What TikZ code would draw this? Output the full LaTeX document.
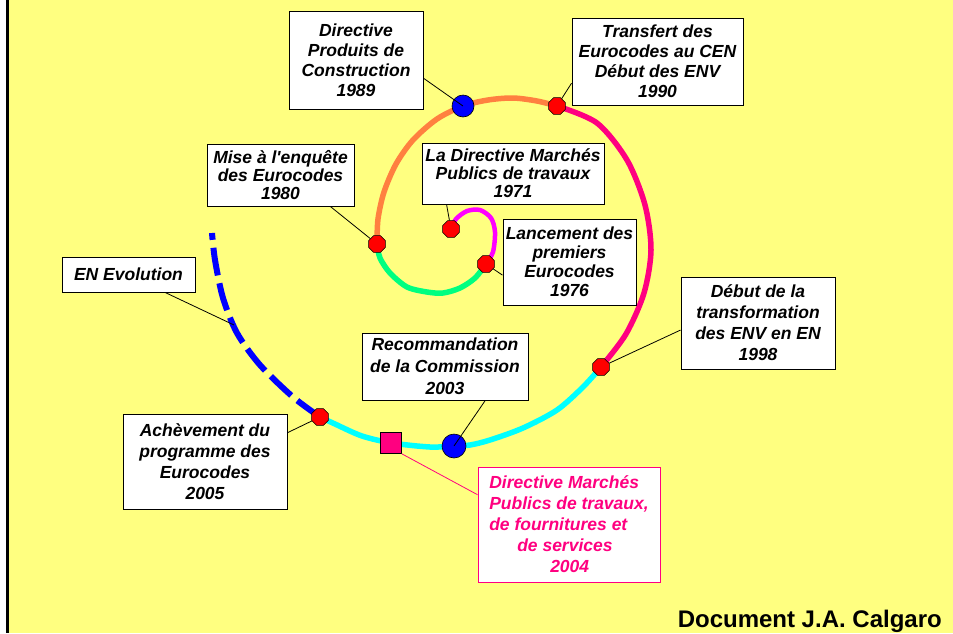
\documentclass[tikz,border=0pt]{standalone}
\usepackage{fontspec}
\setmainfont{Liberation Sans}[Ligatures=TeXOff]
\usetikzlibrary{shapes.geometric,calc}
\definecolor{bgyellow}{HTML}{FFFF80}
\definecolor{sporange}{HTML}{FF8040}
\definecolor{sppink}{HTML}{FF0080}
\definecolor{spmagenta}{HTML}{FF00FF}
\definecolor{spgreen}{HTML}{00FF80}
\definecolor{spcyan}{HTML}{00FFFF}
\definecolor{spblue}{HTML}{0000FF}
\definecolor{spred}{HTML}{FF0000}
\begin{document}
\begin{tikzpicture}[x=1pt,y=-1pt,
  box/.style={draw=black,line width=1pt,fill=white,inner sep=0pt,align=center,
    font=\bfseries\itshape\fontsize{17.5}{#1}\selectfont},
  box/.default=20,
  reddot/.style={regular polygon,regular polygon sides=8,minimum size=18pt,inner sep=0pt,
    fill=spred,draw=black,line width=0.6pt},
  bluedot/.style={circle,minimum size=#1,inner sep=0pt,fill=spblue,draw=black,line width=0.6pt},
  conn/.style={draw=black,line width=0.8pt},
  spiralseg/.style={line width=5.5pt,draw=#1},
]
\useasboundingbox (0,0) rectangle (953,633);
\fill[white] (0,0) rectangle (953,633);
\fill[bgyellow] (9,0) rectangle (953,633);
\draw[line width=3pt] (7.5,0) -- (7.5,633);

% spiral
\draw[spiralseg=spmagenta,line width=4.5pt] plot[smooth] coordinates {(451,229) (456,219) (467,211) (480,210) (491,218) (495,232) (493,252) (486,264)};
\draw[spiralseg=spgreen] plot[smooth] coordinates {(486,264) (475,278) (460,288) (443,293) (427,292) (407,287) (390,273) (380,258) (377,244)};
\draw[spiralseg=sporange] plot[smooth] coordinates {(377,244) (378,219) (384,192) (396,164) (413,140) (437,119) (463,106) (488,100) (513,98) (537,101) (557,106)};
\draw[spiralseg=sppink] plot[smooth] coordinates {(557,106) (597,123) (627,160) (645,205) (651,250) (644,293) (626,334) (601,367)};
\draw[spiralseg=spcyan] plot[smooth] coordinates {(601,367) (583,387) (557,410) (523,428) (490,440) (470,445) (454,446) (430,447) (392,443) (362,436) (335,424) (320,417)};
\draw[spiralseg=spblue,line width=6pt,dash pattern=on 28pt off 8pt] plot[smooth] coordinates {(320,417) (293,397) (260,365) (237,333) (223,298) (215,260) (212,233)};
\coordinate (enpt) at (234,325);

% boxes
\node[box] (b1989) at (356,60) [minimum width=134pt,minimum height=98pt] {Directive\\Produits de\\Construction\\1989};
\node[box] (b1990) at (657.5,61.5) [minimum width=171pt,minimum height=87pt] {Transfert des\\Eurocodes au CEN\\Début des ENV\\1990};
\node[box=18] (b1980) at (280.5,175) [minimum width=147pt,minimum height=62pt] {Mise à l'enquête\\des Eurocodes\\1980};
\node[box=18] (b1971) at (513,173.5) [minimum width=182pt,minimum height=61pt] {La Directive Marchés\\Publics de travaux\\1971};
\node[box=19] (b1976) at (569.5,262) [minimum width=133pt,minimum height=86pt] {Lancement des\\premiers\\Eurocodes\\1976};
\node[box] (ben) at (128.5,274.5) [minimum width=133pt,minimum height=35pt] {EN Evolution};
\node[box=21] (b1998) at (758,323) [minimum width=154pt,minimum height=92pt] {Début de la\\transformation\\des ENV en EN\\1998};
\node[box=22] (b2003) at (445,366.5) [minimum width=166pt,minimum height=67pt] {Recommandation\\de la Commission\\2003};
\node[box=21,align=left,draw=sppink,text=sppink] (b2004) at (569,524.5) [minimum width=182pt,minimum height=115pt] {Directive Marchés\\Publics de travaux,\\de fournitures et\\\hspace*{28pt}de services\\\hspace*{61pt}2004};
\node[box=21] (b2005) at (205,461.5) [minimum width=164pt,minimum height=95pt] {Achèvement du\\programme des\\Eurocodes\\2005};

% markers
\node[reddot] (d1971) at (451,229) {};
\node[reddot] (d1976) at (486,264) {};
\node[reddot] (d1980) at (377,244) {};
\node[bluedot=22pt] (d1989) at (463,106) {};
\node[reddot] (d1990) at (557,106) {};
\node[reddot] (d1998) at (601,367) {};
\node[bluedot=24pt] (d2003) at (454,446) {};
\node[rectangle,minimum size=21pt,inner sep=0pt,fill=sppink,draw=black,line width=0.6pt] (d2004) at (391,443) {};
\node[reddot] (d2005) at (320,417) {};

% connectors
\draw[conn] ($(b1989.north east)!0.684!(b1989.south east)$) -- (d1989.center);
\draw[conn] ($(b1990.north west)!0.747!(b1990.south west)$) -- (d1990);
\draw[conn] ($(b1980.south west)!0.837!(b1980.south east)$) -- (d1980);
\draw[conn] ($(b1971.south west)!0.137!(b1971.south east)$) -- (d1971);
\draw[conn] (d1976) -- ($(b1976.north west)!0.651!(b1976.south west)$);
\draw[conn] ($(ben.south west)!0.774!(ben.south east)$) -- (enpt);
\draw[conn] ($(b1998.north west)!0.576!(b1998.south west)$) -- (d1998);
\draw[conn] ($(b2003.south west)!0.741!(b2003.south east)$) -- (d2003.center);
\draw[draw=sppink,line width=0.8pt] (d2004.south east) -- ($(b2004.north west)!0.243!(b2004.south west)$);
\draw[conn] ($(b2005.north east)!0.2!(b2005.south east)$) -- (d2005);

\node[anchor=base east,inner sep=0pt,font=\bfseries\fontsize{24}{28}\selectfont] (credit) at (942,627) {Document J.A. Calgaro};
\end{tikzpicture}
\end{document}
